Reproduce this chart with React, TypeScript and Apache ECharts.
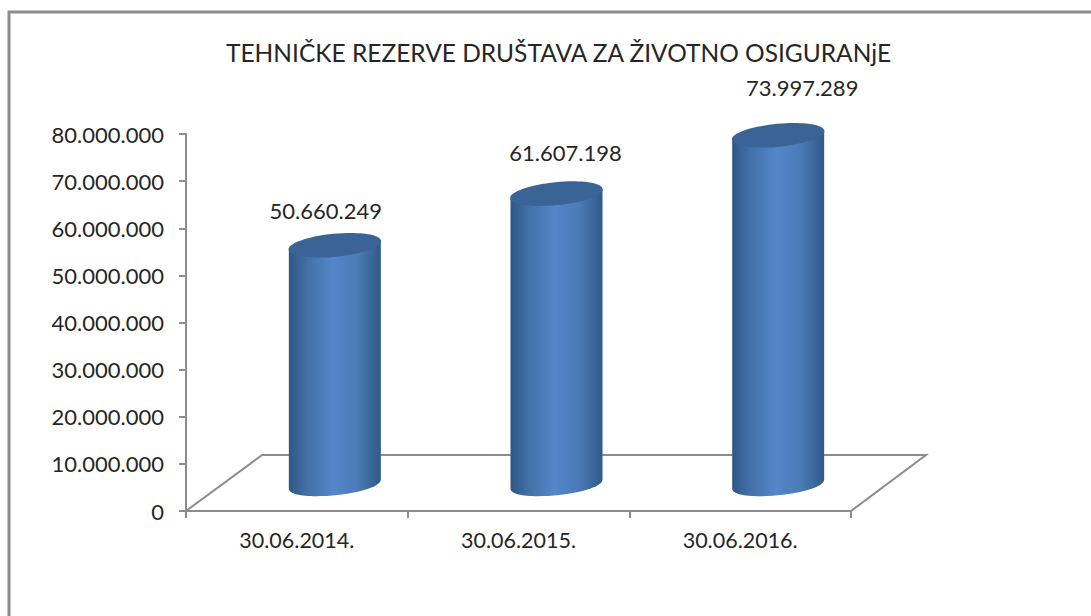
import React, { useEffect, useRef } from "react";
import * as echarts from "echarts";

const categories = ["30.06.2014.", "30.06.2015.", "30.06.2016."];
const values = [50660249, 61607198, 73997289];
const valueLabels = ["50.660.249", "61.607.198", "73.997.289"];
const titleText = "TEHNIČKE REZERVE DRUŠTAVA ZA ŽIVOTNO OSIGURANjE";

const FONT = "Lato, 'Open Sans', sans-serif";
const GREY = "#8c8c8c";
const TEXT = "#262626";
const DEPTH_X = 38;
const DEPTH_Y = 27;
const RX = 46;
const RY = 11.5;
const TILT = 4.5;
const labelNudgeX = [-9, 9, 24];
const labelNudgeY = [-35, -41, -48];

const dotted = (v: number) =>
  String(Math.round(v)).replace(/\B(?=(\d{3})+(?!\d))/g, ".");

echarts.graphic.registerShape(
  "cylinderBody",
  echarts.graphic.extendShape({
    shape: { cx: 0, yt: 0, yb: 0, rx: 0, tilt: 0, sag: 0 },
    buildPath(ctx: any, s: any) {
      ctx.moveTo(s.cx - s.rx, s.yt + s.tilt);
      ctx.lineTo(s.cx + s.rx, s.yt - s.tilt);
      ctx.lineTo(s.cx + s.rx, s.yb - s.tilt);
      ctx.bezierCurveTo(
        s.cx + s.rx,
        s.yb - s.tilt + s.sag,
        s.cx - s.rx,
        s.yb + s.tilt + s.sag,
        s.cx - s.rx,
        s.yb + s.tilt
      );
      ctx.closePath();
    },
  })
);

export default function App() {
  const ref = useRef<HTMLDivElement>(null);
  useEffect(() => {
    document.body.style.margin = "0";
    const chart = echarts.init(ref.current!, undefined, { renderer: "svg" });
    chart.setOption({
      animation: false,
      backgroundColor: "#ffffff",
      title: {
        text: titleText,
        left: 221,
        top: 35,
        textStyle: { fontFamily: FONT, fontSize: 24.5, fontWeight: "normal", color: TEXT },
      },
      grid: { left: 186, right: 240, top: 134, bottom: 105 },
      xAxis: {
        type: "category",
        data: categories,
        boundaryGap: true,
        axisLine: { lineStyle: { color: GREY, width: 2 } },
        axisTick: { show: true, alignWithLabel: false, length: 7, lineStyle: { color: GREY, width: 2 } },
        axisLabel: { fontFamily: FONT, fontSize: 21.5, color: TEXT, margin: 18 },
      },
      yAxis: {
        type: "value",
        min: 0,
        max: 80000000,
        interval: 10000000,
        splitLine: { show: false },
        axisLine: { show: true, lineStyle: { color: GREY, width: 2 } },
        axisTick: { show: true, length: 7, lineStyle: { color: GREY, width: 2 } },
        axisLabel: {
          fontFamily: FONT,
          fontSize: 22,
          color: TEXT,
          margin: 22,
          formatter: (v: number) => dotted(v),
        },
      },
      graphic: [
        {
          type: "rect",
          shape: { x: 9, y: 12, width: 1200, height: 700 },
          style: { fill: "none", stroke: GREY, lineWidth: 3 },
          z: 0,
        },
        {
          type: "polyline",
          shape: { points: [[186, 511], [262, 455], [926, 455], [851, 511]] },
          style: { fill: "none", stroke: GREY, lineWidth: 2 },
          z: 0,
        },
      ],
      series: [
        {
          type: "custom",
          coordinateSystem: "cartesian2d",
          data: values.map((v, i) => [i, v]),
          encode: { x: 0, y: 1 },
          renderItem: (params: any, api: any) => {
            const i = api.value(0);
            const top = api.coord([i, api.value(1)]);
            const base = api.coord([i, 0]);
            const cx = top[0] + DEPTH_X;
            const yt = top[1] - DEPTH_Y;
            const yb = base[1] - DEPTH_Y;
            const rot = Math.atan2(TILT, RX);
            return {
              type: "group",
              children: [
                {
                  type: "cylinderBody",
                  shape: { cx, yt, yb, rx: RX, tilt: TILT, sag: 15 },
                  style: {
                    fill: new echarts.graphic.LinearGradient(0, 0, 1, 0, [
                      { offset: 0, color: "#2e5785" },
                      { offset: 0.2, color: "#4271a8" },
                      { offset: 0.48, color: "#5486c9" },
                      { offset: 0.75, color: "#4a7bb6" },
                      { offset: 1, color: "#2f5a88" },
                    ]),
                  },
                },
                {
                  type: "ellipse",
                  x: cx,
                  y: yt,
                  rotation: rot,
                  shape: { cx: 0, cy: 0, rx: RX + 0.5, ry: RY },
                  style: { fill: "#3a6496" },
                },
                {
                  type: "text",
                  style: {
                    text: valueLabels[i],
                    x: cx + labelNudgeX[i],
                    y: yt + labelNudgeY[i],
                    align: "center",
                    verticalAlign: "middle",
                    fontFamily: FONT,
                    fontSize: 22,
                    fill: TEXT,
                  },
                },
              ],
            };
          },
        },
      ],
    });
    return () => chart.dispose();
  }, []);
  return <div ref={ref} style={{ width: 1091, height: 616 }} />;
}
